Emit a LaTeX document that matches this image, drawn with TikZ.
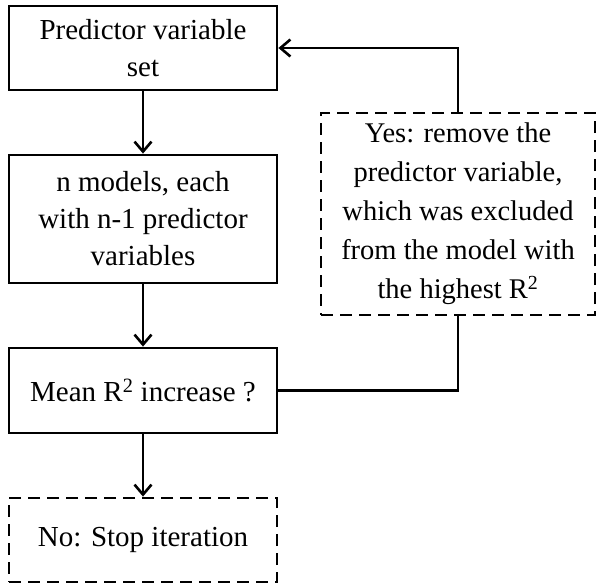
\documentclass[tikz,border=0pt]{standalone}
\usepackage{fontspec}
\setmainfont{Liberation Serif}
\usetikzlibrary{arrows.meta}
\begin{document}
\begin{tikzpicture}[x=1pt,y=1pt,
  box/.style={draw=black, line width=2.8pt, align=center, inner sep=0pt,
    font=\fontsize{29}{37}\selectfont},
  dbox/.style={box, dashed, dash pattern=on 12pt off 7pt},
  conn/.style={line width=2.6pt, -{Straight Barb[length=10pt,width=17pt,line width=2.6pt]}},
  plain/.style={line width=2.6pt}]
\useasboundingbox (0,0) rectangle (597,-584);
\node[box, minimum width=268, minimum height=84] (b1) at (143,-48) {Predictor variable\\set};
\node[box, minimum width=268, minimum height=128] (b2) at (143,-219) {n models, each\\with n-1 predictor\\variables};
\node[box, minimum width=268, minimum height=85] (b3) at (143,-390.5) {Mean R\textsuperscript{2} increase ?};
\node[dbox, minimum width=268, minimum height=84] (b4) at (143,-540) {No: Stop iteration};
\node[dbox, minimum width=274, minimum height=202, font=\fontsize{28.5}{39}\selectfont] (y) at (458,-214) {Yes: remove the\\predictor variable,\\which was excluded\\from the model with\\the highest R\textsuperscript{2}};
\draw[conn] (b1) -- (b2);
\draw[conn] (b2) -- (b3);
\draw[conn] (b3) -- (b4);
\draw[plain] (b3.east) -| (y.south);
\draw[conn] (y.north) |- (b1.east);
\end{tikzpicture}
\end{document}
